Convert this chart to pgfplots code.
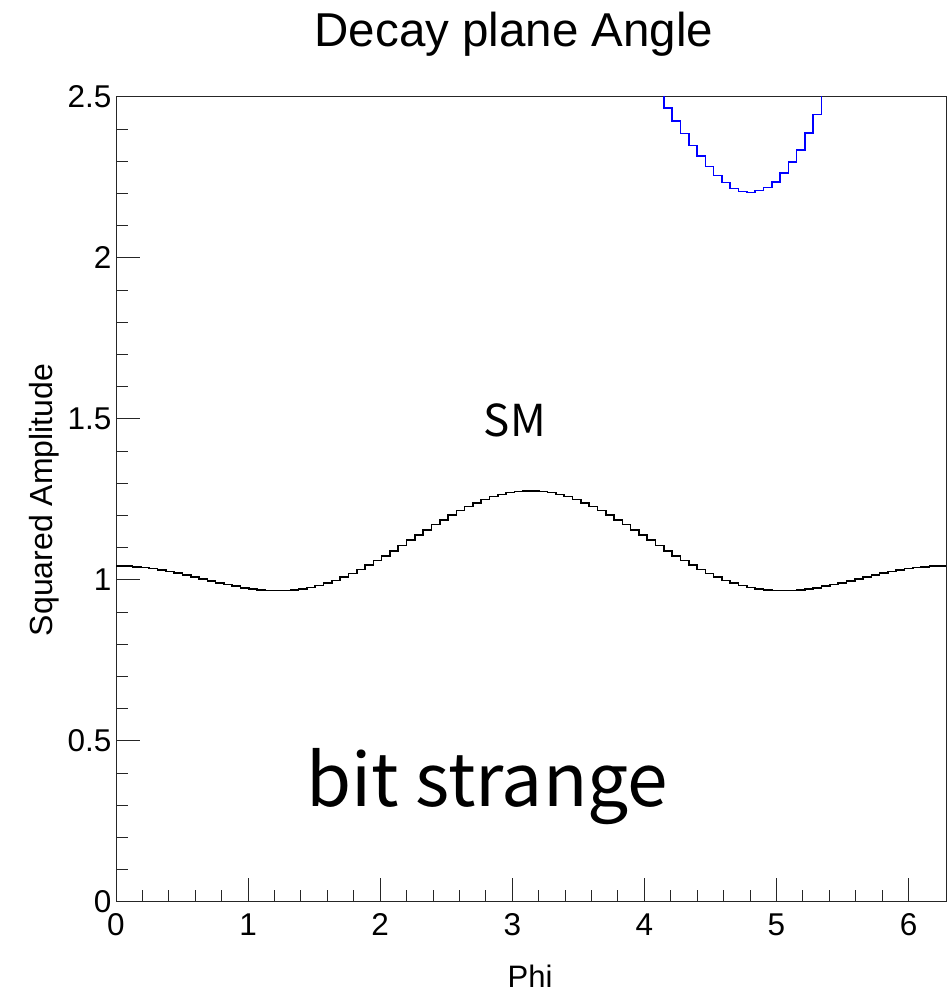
\documentclass[border=0pt]{standalone}
\usepackage{pgfplots}
\pgfplotsset{compat=1.18}
\usepackage{fontspec}
\setmainfont{Liberation Sans}
\newfontfamily\jp{Noto Sans CJK JP}
\begin{document}
\begin{tikzpicture}
\path[use as bounding box] (0pt,0pt) rectangle (947pt,992pt);
\begin{axis}[
  at={(116pt,90pt)}, anchor=south west,
  width=830pt, height=805pt, scale only axis,
  xmin=0, xmax=6.28319, ymin=0, ymax=2.5,
  xtick={0,1,2,3,4,5,6}, ytick={0,0.5,1,1.5,2,2.5},
  minor x tick num=4, minor y tick num=4,
  tick align=inside, tick pos=left,
  major tick length=24pt, minor tick length=12pt,
  axis line style={line width=1pt, black!85},
  every tick/.style={line width=1pt, black!85},
  /pgf/number format/assume math mode=true,
  ticklabel style={font=\fontsize{31.5}{36}\selectfont},
  yticklabel style={xshift=-1pt},
  xticklabel style={yshift=-8pt},
  clip=true,
]
\addplot[const plot mark left, black, line width=1.6pt] coordinates {
(0,1.0439) (0.0628,1.0430) (0.1257,1.0412) (0.1885,1.0385) (0.2513,1.0351)
(0.3142,1.0309) (0.3770,1.0261) (0.4398,1.0208) (0.5027,1.0151) (0.5655,1.0092)
(0.6283,1.0031) (0.6912,0.9970) (0.7540,0.9911) (0.8168,0.9856) (0.8796,0.9805)
(0.9425,0.9760) (1.0053,0.9723) (1.0681,0.9695) (1.1310,0.9677) (1.1938,0.9670)
(1.2566,0.9675) (1.3195,0.9694) (1.3823,0.9725) (1.4451,0.9771) (1.5080,0.9830)
(1.5708,0.9903) (1.6336,0.9990) (1.6965,1.0090) (1.7593,1.0202) (1.8221,1.0325)
(1.8850,1.0459) (1.9478,1.0602) (2.0106,1.0753) (2.0735,1.0909) (2.1363,1.1070)
(2.1991,1.1233) (2.2619,1.1396) (2.3248,1.1559) (2.3876,1.1718) (2.4504,1.1872)
(2.5133,1.2019) (2.5761,1.2157) (2.6389,1.2284) (2.7018,1.2400) (2.7646,1.2501)
(2.8274,1.2588) (2.8903,1.2659) (2.9531,1.2713) (3.0159,1.2749) (3.0788,1.2768)
(3.1416,1.2768) (3.2044,1.2749) (3.2673,1.2713) (3.3301,1.2659) (3.3929,1.2588)
(3.4558,1.2501) (3.5186,1.2400) (3.5814,1.2284) (3.6442,1.2157) (3.7071,1.2019)
(3.7699,1.1872) (3.8327,1.1718) (3.8956,1.1559) (3.9584,1.1396) (4.0212,1.1233)
(4.0841,1.1070) (4.1469,1.0909) (4.2097,1.0753) (4.2726,1.0602) (4.3354,1.0459)
(4.3982,1.0325) (4.4611,1.0202) (4.5239,1.0090) (4.5867,0.9990) (4.6496,0.9903)
(4.7124,0.9830) (4.7752,0.9771) (4.8381,0.9725) (4.9009,0.9694) (4.9637,0.9675)
(5.0265,0.9670) (5.0894,0.9677) (5.1522,0.9695) (5.2150,0.9723) (5.2779,0.9760)
(5.3407,0.9805) (5.4035,0.9856) (5.4664,0.9911) (5.5292,0.9970) (5.5920,1.0031)
(5.6549,1.0092) (5.7177,1.0151) (5.7805,1.0208) (5.8434,1.0261) (5.9062,1.0309)
(5.9690,1.0351) (6.0319,1.0385) (6.0947,1.0412) (6.1575,1.0430) (6.2204,1.0439)
(6.2832,1.0439)
};
\addplot[const plot mark left, blue, line width=1.6pt] coordinates {
(4.0212,2.62) (4.0841,2.55) (4.1469,2.465) (4.2097,2.425) (4.2726,2.386)
(4.3354,2.349) (4.3982,2.317) (4.4611,2.284) (4.5239,2.256) (4.5867,2.234)
(4.6496,2.216) (4.7124,2.207) (4.7752,2.203) (4.8381,2.209) (4.9009,2.219)
(4.9637,2.236) (5.0265,2.264) (5.0894,2.298) (5.1522,2.336) (5.2150,2.389)
(5.2779,2.445) (5.3407,2.53) (5.4035,2.62) (5.4664,2.62)
};
\node[font=\jp\fontsize{44}{50}\selectfont] at (axis cs:3.02,1.497) {SM};
\node[font=\jp\fontsize{73}{80}\selectfont] at (axis cs:2.81,0.357) {bit strange};
\end{axis}
\node[anchor=base, font=\fontsize{47.5}{52}\selectfont] at (514pt,945pt) {Decay plane Angle};
\node[anchor=base, font=\fontsize{31}{36}\selectfont] at (530pt,5pt) {Phi};
\node[anchor=base, rotate=90, font=\fontsize{32}{36}\selectfont] at (52pt,492pt) {Squared Amplitude};
\end{tikzpicture}
\end{document}
